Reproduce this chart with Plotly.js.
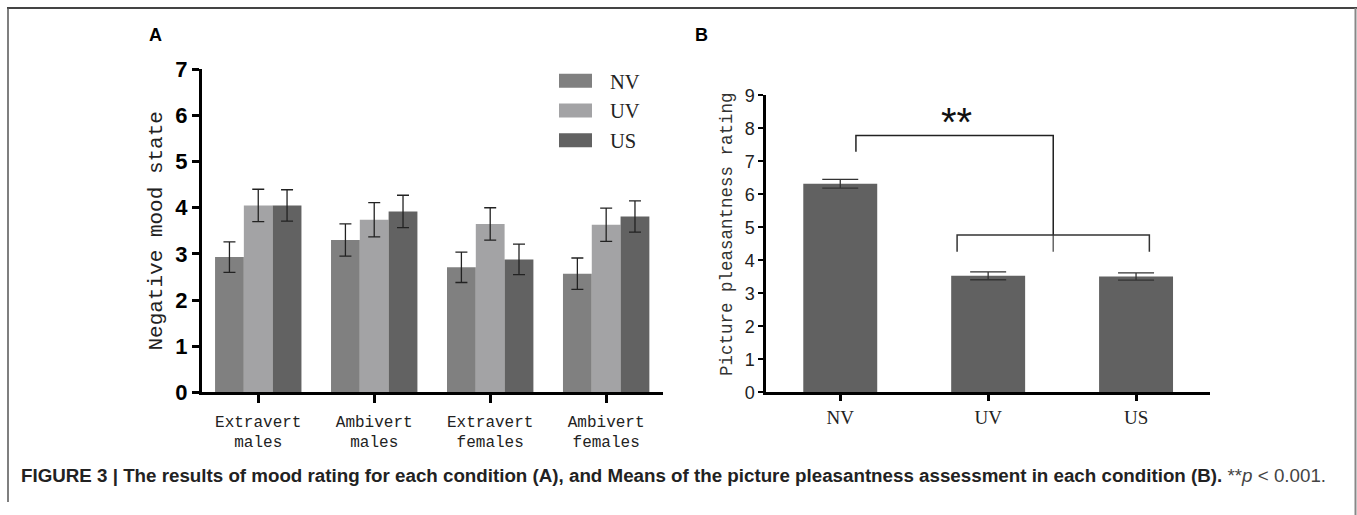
<!DOCTYPE html>
<html>
<head>
<meta charset="utf-8">
<script src="https://cdn.plot.ly/plotly-3.0.1.min.js"></script>
<style>
  html, body { margin: 0; padding: 0; background: #fff; }
  #chart { width: 1357px; height: 515px; }
</style>
</head>
<body>
<div id="chart"></div>
<script>
// ---------- Data: panel A ----------
const groupsA = ["Extravert<br>males", "Ambivert<br>males", "Extravert<br>females", "Ambivert<br>females"];
const seriesNames = ["NV", "UV", "US"];
const nvA = [2.93, 3.30, 2.71, 2.57];
const nvErrA = [0.33, 0.35, 0.33, 0.34];
const uvA = [4.05, 3.74, 3.65, 3.63];
const uvErrA = [0.35, 0.37, 0.35, 0.36];
const usA = [4.05, 3.92, 2.88, 3.81];
const usErrA = [0.34, 0.35, 0.33, 0.34];

// ---------- Data: panel B ----------
const condB = ["NV", "UV", "US"];
const meanB = [6.32, 3.53, 3.51];
const errB = [0.13, 0.12, 0.11];

const colors = ["#808080", "#a3a3a5", "#626262"];
const colorB = "#616161";

function barA(name, y, err, color) {
  return {
    type: "bar", name: name, x: groupsA, y: y,
    xaxis: "x", yaxis: "y",
    marker: { color: color, line: { width: 0 } },
    error_y: { type: "data", array: err, visible: true, color: "#222", thickness: 1.3, width: 6 },
    hoverinfo: "none"
  };
}

const traces = [
  barA(seriesNames[0], nvA, nvErrA, colors[0]),
  barA(seriesNames[1], uvA, uvErrA, colors[1]),
  barA(seriesNames[2], usA, usErrA, colors[2]),
  {
    type: "bar", name: "B", x: condB, y: meanB, width: 0.5,
    xaxis: "x2", yaxis: "y2", showlegend: false,
    marker: { color: colorB, line: { width: 0 } },
    error_y: { type: "data", array: errB, visible: true, color: "#333", thickness: 1.3, width: 18 },
    hoverinfo: "none"
  }
];

const W = 1357, H = 515;
const px = v => v / W;
const py = v => 1 - v / H;

const monoFont = "Liberation Mono, DejaVu Sans Mono, monospace";
const serifFont = "Liberation Serif, DejaVu Serif, serif";
const sansFont = "Liberation Sans, Arial, sans-serif";

const layout = {
  width: W, height: H,
  margin: { l: 0, r: 0, t: 0, b: 0 },
  paper_bgcolor: "#fff", plot_bgcolor: "rgba(0,0,0,0)",
  barmode: "group", bargap: 0.255, bargroupgap: 0,
  showlegend: true,
  legend: {
    x: px(570), y: py(61), xanchor: "left", yanchor: "top",
    font: { family: serifFont, size: 20.5, color: "#222" },
    tracegroupgap: 0, itemwidth: 30, bgcolor: "rgba(0,0,0,0)"
  },
  xaxis: {
    domain: [px(202), px(663)], anchor: "y",
    type: "category", range: [-0.485, 3.49],
    showline: true, linecolor: "#000", linewidth: 3,
    ticks: "outside", ticklen: 8, tickwidth: 3, tickcolor: "#000",
    ticklabelstandoff: 4,
    showgrid: false, zeroline: false,
    tickfont: { family: monoFont, size: 16, color: "#222" }
  },
  yaxis: {
    domain: [py(392.3), py(69.3)], anchor: "x",
    range: [0, 7], dtick: 1,
    showline: true, linecolor: "#000", linewidth: 3,
    ticks: "outside", ticklen: 7, tickwidth: 3, tickcolor: "#000",
    showgrid: false, zeroline: false,
    tickfont: { family: sansFont, size: 22, color: "#000", weight: 700 },
    title: { text: "Negative mood state", font: { family: monoFont, size: 21, color: "#222" }, standoff: 7 }
  },
  xaxis2: {
    domain: [px(766.3), px(1210)], anchor: "y2",
    type: "category", range: [-0.5, 2.5],
    showline: true, linecolor: "#000", linewidth: 3,
    ticks: "outside", ticklen: 6, tickwidth: 3, tickcolor: "#000",
    showgrid: false, zeroline: false,
    tickfont: { family: serifFont, size: 19, color: "#222" }
  },
  yaxis2: {
    domain: [py(392.3), py(95.3)], anchor: "x2",
    range: [0, 9], dtick: 1,
    showline: true, linecolor: "#000", linewidth: 3,
    ticks: "outside", ticklen: 5, tickwidth: 2, tickcolor: "#000",
    showgrid: false, zeroline: false,
    tickfont: { family: sansFont, size: 18, color: "#222" }
  },
  shapes: [
    // figure frame
    { type: "line", xref: "paper", yref: "paper", x0: px(7), x1: px(1357), y0: py(8), y1: py(8), line: { color: "#444", width: 2 } },
    { type: "line", xref: "paper", yref: "paper", x0: px(8), x1: px(8), y0: py(8), y1: py(502), line: { color: "#555", width: 1.5 } },
    { type: "line", xref: "paper", yref: "paper", x0: px(1355.5), x1: px(1355.5), y0: py(8), y1: py(515), line: { color: "#888", width: 2 } },
    // significance brackets, panel B
    { type: "path", xref: "x2", yref: "y2", path: "M 0.106 7.29 L 0.106 7.78 L 1.44 7.78 L 1.44 4.77", line: { color: "#222", width: 1.5 } },
    { type: "line", xref: "x2", yref: "y2", x0: 1.44, x1: 1.44, y0: 4.77, y1: 4.26, line: { color: "#666", width: 1.5 } },
    { type: "path", xref: "x2", yref: "y2", path: "M 0.79 4.26 L 0.79 4.77 L 2.09 4.77 L 2.09 4.26", line: { color: "#333", width: 1.5 } }
  ],
  annotations: [
    { text: "<b>A</b>", xref: "paper", yref: "paper", x: px(155), y: py(35), xanchor: "center", yanchor: "middle", showarrow: false, font: { family: sansFont, size: 18, color: "#000" } },
    { text: "<b>B</b>", xref: "paper", yref: "paper", x: px(701), y: py(35), xanchor: "center", yanchor: "middle", showarrow: false, font: { family: sansFont, size: 18, color: "#000" } },
    { text: "Picture pleasantness rating", xref: "paper", yref: "paper", x: px(727), y: py(234), xanchor: "center", yanchor: "middle", textangle: -90, showarrow: false, font: { family: monoFont, size: 17.5, color: "#333" } },
    { text: "**", xref: "x2", yref: "y2", x: 0.787, y: 7.47, xanchor: "center", yanchor: "bottom", showarrow: false, font: { family: sansFont, size: 40, color: "#111" } },
    { text: "<b>FIGURE 3 | The results of mood rating for each condition (A), and Means of the picture pleasantness assessment in each condition (B).</b> <span style='color:#444'>**<i>p</i> &lt; 0.001.</span>",
      xref: "paper", yref: "paper", x: px(19), y: py(475), xanchor: "left", yanchor: "middle", showarrow: false,
      font: { family: "Liberation Sans Narrow, " + sansFont, size: 18.75, color: "#222" } }
  ]
};

Plotly.newPlot("chart", traces, layout, { staticPlot: true, displayModeBar: false }).then(function (gd) {
  // widen the legend swatches to match the reference's rectangular keys
  gd.querySelectorAll(".legend [clip-path]").forEach(function (el) { el.removeAttribute("clip-path"); });
  const paths = gd.querySelectorAll(".legend .legendpoints path");
  paths.forEach(function (p) { p.setAttribute("d", "M-31,-7H2V7H-31Z"); });
});
</script>
</body>
</html>
